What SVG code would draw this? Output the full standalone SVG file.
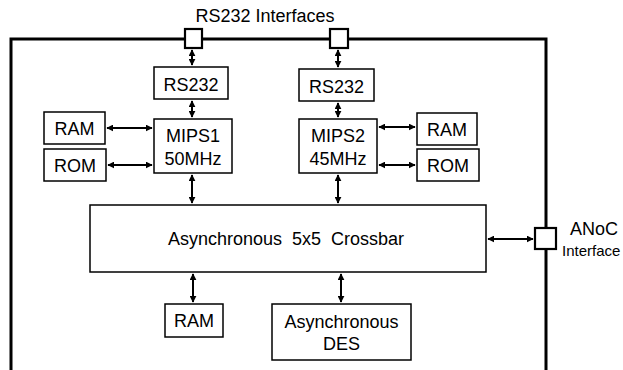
<svg xmlns="http://www.w3.org/2000/svg" width="623" height="370" viewBox="0 0 623 370">
<style>
text{font-family:"Liberation Sans",Arial,sans-serif;fill:#000}
.box{fill:#fff;stroke:#000;stroke-width:1.5}
.port{fill:#fff;stroke:#000;stroke-width:2.2}
.t{font-size:18px;text-anchor:middle}
.c{stroke:#000;stroke-width:2;fill:none;marker-start:url(#ah);marker-end:url(#ah)}
</style>
<defs>
<marker id="ah" viewBox="0 0 10 10" refX="9" refY="5" markerWidth="3.5" markerHeight="3.5" orient="auto-start-reverse" markerUnits="strokeWidth">
<path d="M0,0L10,5L0,10z" fill="#000"/>
</marker>
</defs>
<rect width="623" height="370" fill="#fff"/>
<path d="M11,370V39H546V370" fill="none" stroke="#000" stroke-width="3"/>
<text x="265" y="22" class="t" font-size="17.5">RS232 Interfaces</text>
<g id="port1"><rect class="port" x="185" y="29" width="17" height="19"/></g>
<g id="port2"><rect class="port" x="330" y="29" width="18" height="19"/></g>
<g id="anoc"><rect class="port" x="535" y="228" width="21" height="21"/>
<text x="594" y="235" class="t" font-size="16">ANoC</text>
<text x="562" y="256" font-size="15">Interface</text></g>
<g id="rs232a"><rect class="box" x="154" y="67" width="74" height="32"/><text x="191" y="91" class="t">RS232</text></g>
<g id="rs232b"><rect class="box" x="299" y="69" width="75" height="32"/><text x="336.5" y="93" class="t">RS232</text></g>
<g id="mips1"><rect class="box" x="154" y="119" width="78" height="54"/><text x="193" y="142" class="t">MIPS1</text><text x="193" y="165" class="t">50MHz</text></g>
<g id="mips2"><rect class="box" x="299" y="119" width="78" height="54"/><text x="338" y="142" class="t">MIPS2</text><text x="338" y="165" class="t">45MHz</text></g>
<g id="ram1"><rect class="box" x="44" y="112" width="61" height="32"/><text x="74.5" y="135" class="t">RAM</text></g>
<g id="rom1"><rect class="box" x="44" y="149" width="62" height="32"/><text x="75" y="172" class="t">ROM</text></g>
<g id="ram2"><rect class="box" x="417" y="113" width="60" height="32"/><text x="447" y="136" class="t">RAM</text></g>
<g id="rom2"><rect class="box" x="417" y="149" width="62" height="32"/><text x="448" y="172" class="t">ROM</text></g>
<g id="crossbar"><rect class="box" x="90" y="205" width="396" height="67"/><text x="286" y="245" class="t" font-size="17" style="white-space:pre">Asynchronous  5x5  Crossbar</text></g>
<g id="ram3"><rect class="box" x="165" y="304" width="58" height="33"/><text x="194" y="327" class="t">RAM</text></g>
<g id="des"><rect class="box" x="272" y="304" width="139" height="56"/><text x="341.5" y="328" class="t">Asynchronous</text><text x="341.5" y="350" class="t">DES</text></g>
<g id="connectors">
<path class="c" d="M192,50V65"/>
<path class="c" d="M338,50V67"/>
<path class="c" d="M192,101V117"/>
<path class="c" d="M338,103V117"/>
<path class="c" d="M192,175V203"/>
<path class="c" d="M338,175V203"/>
<path class="c" d="M107,128H152"/>
<path class="c" d="M108,165H152"/>
<path class="c" d="M379,127H415"/>
<path class="c" d="M379,165H415"/>
<path class="c" d="M193,274V302"/>
<path class="c" d="M341,274V302"/>
<path class="c" d="M488,239H533"/>
</g>
</svg>
